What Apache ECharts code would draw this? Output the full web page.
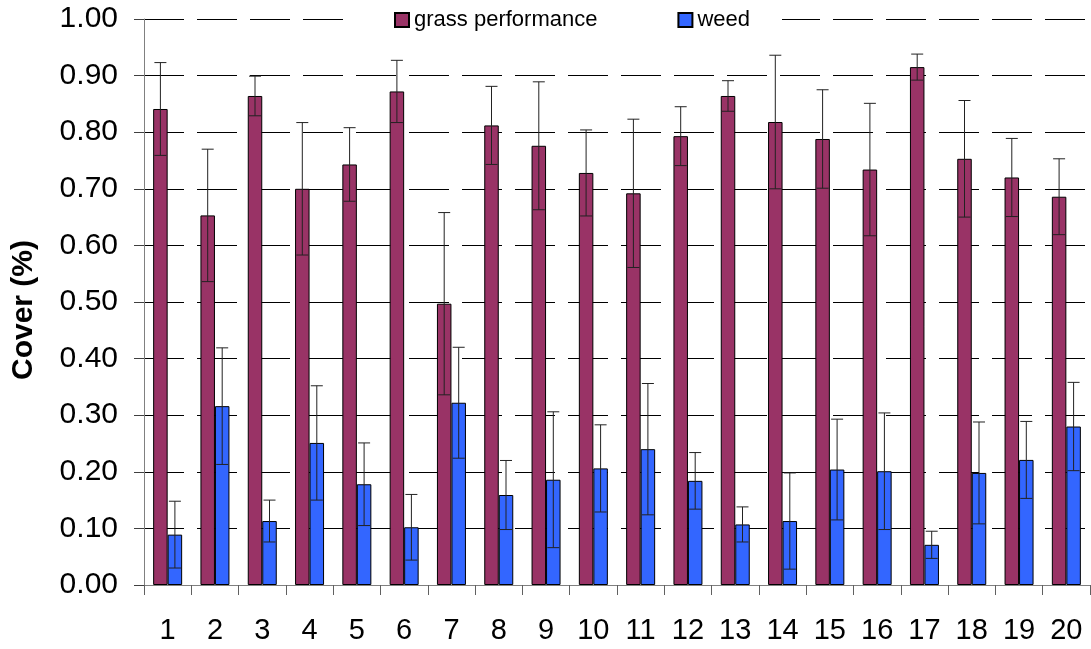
<!DOCTYPE html>
<html>
<head>
<meta charset="utf-8">
<script src="https://cdn.jsdelivr.net/npm/echarts@6/dist/echarts.min.js"></script>
<style>
  html, body { margin: 0; padding: 0; background: #fff; }
  #chart { width: 1091px; height: 649px; }
</style>
</head>
<body>
<div id="chart"></div>
<script>
const categories = ['1', '2', '3', '4', '5', '6', '7', '8', '9', '10',
  '11', '12', '13', '14', '15', '16', '17', '18', '19', '20'];
const grass = [0.841, 0.653, 0.864, 0.700, 0.743, 0.872, 0.497, 0.812, 0.776, 0.728,
  0.692, 0.793, 0.864, 0.818, 0.788, 0.734, 0.915, 0.753, 0.720, 0.686];
const grassErr = [0.082, 0.117, 0.035, 0.117, 0.065, 0.055, 0.161, 0.069, 0.113, 0.076,
  0.131, 0.052, 0.027, 0.118, 0.087, 0.117, 0.023, 0.103, 0.069, 0.067];
const weed = [0.089, 0.316, 0.113, 0.251, 0.178, 0.102, 0.322, 0.159, 0.186, 0.206,
  0.240, 0.184, 0.107, 0.113, 0.204, 0.201, 0.071, 0.198, 0.221, 0.280];
const weedErr = [0.059, 0.103, 0.037, 0.101, 0.073, 0.058, 0.098, 0.061, 0.120, 0.077,
  0.116, 0.050, 0.031, 0.085, 0.089, 0.103, 0.024, 0.090, 0.068, 0.078];

const barW = 14.5;
const font = 'Liberation Sans, Arial, sans-serif';

// error bar with caps, shifted left/right onto its bar
function errorBars(values, errs, side) {
  return {
    type: 'custom',
    z: 10,
    silent: true,
    data: values.map((v, i) => [i, v - errs[i], v + errs[i]]),
    renderItem: function (params, api) {
      const lo = api.coord([api.value(0), api.value(1)]);
      const hi = api.coord([api.value(0), api.value(2)]);
      const x = lo[0] + side * barW / 2;
      const cap = 6;
      const style = { stroke: '#222', lineWidth: 1 };
      return {
        type: 'group',
        children: [
          { type: 'line', shape: { x1: x, y1: lo[1], x2: x, y2: hi[1] }, style: style },
          { type: 'line', shape: { x1: x - cap, y1: hi[1], x2: x + cap, y2: hi[1] }, style: style },
          { type: 'line', shape: { x1: x - cap, y1: lo[1], x2: x + cap, y2: lo[1] }, style: style }
        ]
      };
    }
  };
}

const chart = echarts.init(document.getElementById('chart'));
chart.setOption({
  animation: false,
  textStyle: { fontFamily: font },
  grid: { left: 144, right: 1, top: 19, bottom: 64 },
  legend: {
    data: ['grass performance', 'weed'],
    icon: 'rect',
    left: 345,
    top: 6,
    padding: [3, 32, 3, 49],
    itemGap: 80,
    itemWidth: 14,
    itemHeight: 14,
    backgroundColor: '#fff',
    textStyle: { fontSize: 22, color: '#000', fontFamily: font },
    z: 20
  },
  graphic: [{
    type: 'text',
    x: 24,
    y: 310,
    rotation: Math.PI / 2,
    style: {
      text: 'Cover (%)',
      font: 'bold 30px Liberation Sans, Arial, sans-serif',
      fill: '#000',
      align: 'center',
      verticalAlign: 'middle'
    }
  }],
  xAxis: {
    type: 'category',
    data: categories,
    axisLine: { lineStyle: { color: '#808080', width: 1 } },
    axisTick: { show: true, length: 10, lineStyle: { color: '#606060' } },
    axisLabel: { fontSize: 29, color: '#000', margin: 31, interval: 0 },
    splitLine: { show: false }
  },
  yAxis: {
    type: 'value',
    min: 0,
    max: 1,
    interval: 0.1,
    axisLine: { show: true, lineStyle: { color: '#808080', width: 1 } },
    axisTick: { show: true, length: 10, lineStyle: { color: '#404040' } },
    axisLabel: {
      fontSize: 30,
      color: '#000',
      margin: 26,
      formatter: v => v.toFixed(2)
    },
    splitLine: { show: true, lineStyle: { color: '#000', width: 1, type: [40, 13] } }
  },
  series: [
    {
      name: 'grass performance',
      type: 'bar',
      data: grass,
      barWidth: barW,
      barGap: '0%',
      itemStyle: { color: '#993366', borderColor: '#000', borderWidth: 1 }
    },
    {
      name: 'weed',
      type: 'bar',
      data: weed,
      barWidth: barW,
      barGap: '0%',
      itemStyle: { color: '#3366FF', borderColor: '#000', borderWidth: 1 }
    },
    errorBars(grass, grassErr, -1),
    errorBars(weed, weedErr, 1)
  ]
});
</script>
</body>
</html>
